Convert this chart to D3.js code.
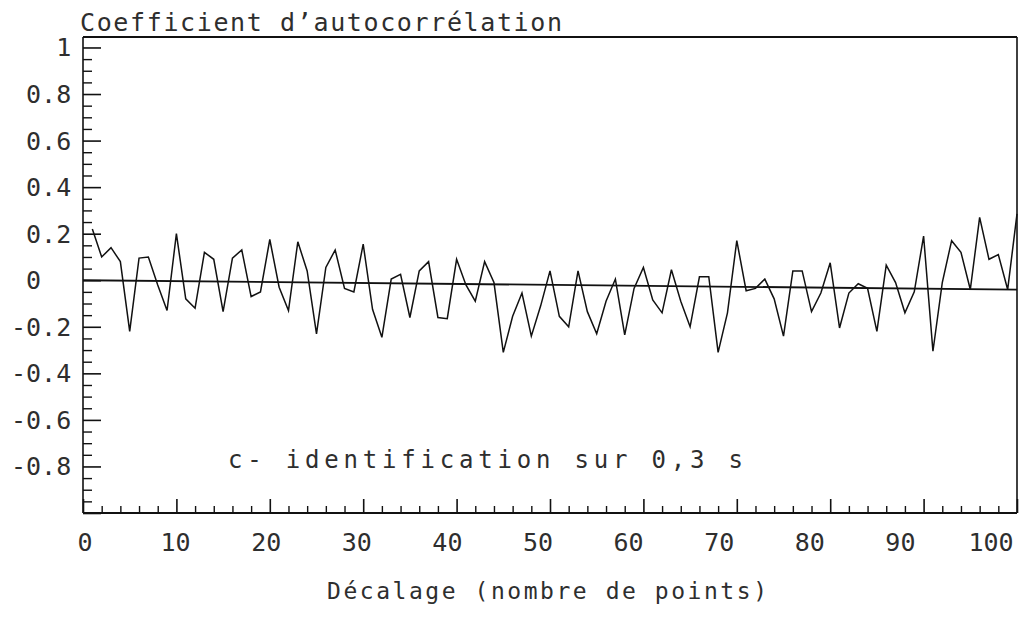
<!DOCTYPE html>
<html>
<head>
<meta charset="utf-8">
<script src="https://cdn.jsdelivr.net/npm/d3@7"></script>
<style>
  html, body { margin: 0; padding: 0; background: #fff; }
  svg { display: block; }
  text { font-family: "DejaVu Sans Mono", "Liberation Mono", monospace; fill: #2e2e2e; white-space: pre; }
</style>
</head>
<body>
<svg id="chart" width="1027" height="629"></svg>
<script>
// Autocorrelation coefficient for lags 1..100
const lags = d3.range(1, 101);
const acf = [
   0.22,  0.10,  0.14,  0.08, -0.22,  0.095, 0.10, -0.02, -0.13,  0.20,
  -0.08, -0.12,  0.12,  0.09, -0.135, 0.095, 0.13, -0.07, -0.05,  0.175,
  -0.03, -0.13,  0.165, 0.04, -0.23,  0.055, 0.13, -0.035,-0.05,  0.155,
  -0.125,-0.245, 0.005, 0.025,-0.16,  0.04,  0.08, -0.16, -0.165, 0.09,
  -0.02, -0.09,  0.08, -0.01, -0.31, -0.155,-0.055,-0.24, -0.11,  0.04,
  -0.155,-0.20,  0.04, -0.135,-0.23, -0.09,  0.005,-0.235,-0.035, 0.055,
  -0.085,-0.14,  0.045,-0.09, -0.20,  0.015, 0.015,-0.31, -0.14,  0.17,
  -0.045,-0.035, 0.005,-0.08, -0.24,  0.04,  0.04, -0.135,-0.055, 0.075,
  -0.205,-0.055,-0.015,-0.035,-0.22,  0.065,-0.01, -0.14, -0.05,  0.19,
  -0.305,-0.01,  0.17,  0.12, -0.04,  0.27,  0.09,  0.11, -0.04,  0.285
];

// Reference line: value at lag 0 and at lag 100
const baseLags = [0, 100];
const baseValues = [0, -0.04];

// Axis ticks and labels
const yMajor = [1, 0.8, 0.6, 0.4, 0.2, 0, -0.2, -0.4, -0.6, -0.8, -1];
const yLabelValues = [1, 0.8, 0.6, 0.4, 0.2, 0, -0.2, -0.4, -0.6, -0.8];
const yLabels = ["   1", " 0.8", " 0.6", " 0.4", " 0.2", " 0", "-0.2", "-0.4", "-0.6", "-0.8"];
const xMajor = [0, 10, 20, 30, 40, 50, 60, 70, 80, 90, 100];
const xLabels = ["0", "10", "20", "30", "40", "50", "60", "70", "80", "90", "100"];

const yTitle = "Coefficient d’autocorrélation";
const xTitle = "Décalage (nombre de points)";
const note = "c- identification sur 0,3 s";

(function draw() {
  const svg = d3.select("#chart");
  const plotLeft = 83, plotRight = 1017, plotTop = 37, plotBottom = 513;

  const x = d3.scaleLinear().domain([0, 100]).range([plotLeft, plotRight]);
  const y = d3.scaleLinear().domain([-1, 1.045]).range([plotBottom, plotTop]);
  // tick labels sit slightly left of their ticks toward the right end
  const xLab = d3.scaleLinear().domain([0, 100]).range([plotLeft + 2, plotRight - 26]);

  const ink = "#111";
  const g = svg.append("g");

  // frame: top and right edges
  g.append("line").attr("x1", x(0)).attr("x2", x(100)).attr("y1", y(1.045)).attr("y2", y(1.045))
    .attr("stroke", ink).attr("stroke-width", 2.2);
  g.append("line").attr("x1", x(100)).attr("x2", x(100)).attr("y1", y(1.045)).attr("y2", y(-1))
    .attr("stroke", ink).attr("stroke-width", 1.6);

  // y axis: major every 0.2, minor every 0.05, ticks pointing inward
  const yMinor = d3.range(-20, 21).map(i => i * 0.05)
    .filter(v => Math.abs(Math.round(v * 100)) % 20 !== 0);
  g.append("g").attr("transform", `translate(${x(0)},0)`)
    .call(d3.axisLeft(y).tickValues(yMinor).tickSize(-9).tickFormat(""))
    .call(s => s.select(".domain").remove())
    .selectAll("line").attr("stroke", ink).attr("stroke-width", 1.4);
  g.append("g").attr("transform", `translate(${x(0)},0)`)
    .call(d3.axisLeft(y).tickValues(yMajor).tickSize(-18).tickFormat(""))
    .call(s => s.select(".domain").remove())
    .selectAll("line").attr("stroke", ink).attr("stroke-width", 1.6);
  g.append("line").attr("x1", x(0)).attr("x2", x(0)).attr("y1", y(1.045)).attr("y2", y(-1))
    .attr("stroke", ink).attr("stroke-width", 1.6);

  // x axis: major every 10, minor every 2, ticks pointing upward
  const xMinor = d3.range(0, 101, 2).filter(v => v % 10 !== 0);
  g.append("g").attr("transform", `translate(0,${y(-1)})`)
    .call(d3.axisBottom(x).tickValues(xMinor).tickSize(-7).tickFormat(""))
    .call(s => s.select(".domain").remove())
    .selectAll("line").attr("stroke", ink).attr("stroke-width", 1.4);
  g.append("g").attr("transform", `translate(0,${y(-1)})`)
    .call(d3.axisBottom(x).tickValues(xMajor).tickSize(-14).tickFormat(""))
    .call(s => s.select(".domain").remove())
    .selectAll("line").attr("stroke", ink).attr("stroke-width", 1.6);
  g.append("line").attr("x1", x(0)).attr("x2", x(100)).attr("y1", y(-1)).attr("y2", y(-1))
    .attr("stroke", ink).attr("stroke-width", 2);

  // y tick labels (fixed-width strings)
  svg.append("g").selectAll("text").data(yLabelValues).join("text")
    .attr("x", 11).attr("y", d => y(d)).attr("dy", "0.36em")
    .attr("font-size", 25)
    .text((d, i) => yLabels[i]);

  // x tick labels
  svg.append("g").selectAll("text").data(xMajor).join("text")
    .attr("x", d => xLab(d)).attr("y", 551)
    .attr("text-anchor", "middle").attr("font-size", 25)
    .text((d, i) => xLabels[i]);

  // titles and annotation
  svg.append("text").attr("x", 80).attr("y", 31).attr("font-size", 25)
    .attr("textLength", 482).attr("lengthAdjust", "spacing").text(yTitle);
  svg.append("text").attr("x", 327).attr("y", 599).attr("font-size", 23)
    .attr("textLength", 440).attr("lengthAdjust", "spacing").text(xTitle);
  svg.append("text").attr("x", 228).attr("y", y(-0.805)).attr("font-size", 24)
    .attr("textLength", 515).attr("lengthAdjust", "spacing").text(note);

  // reference line
  svg.append("line")
    .attr("x1", x(baseLags[0])).attr("y1", y(baseValues[0]))
    .attr("x2", x(baseLags[1])).attr("y2", y(baseValues[1]))
    .attr("stroke", ink).attr("stroke-width", 1.8);

  // autocorrelation curve
  const line = d3.line().x((d, i) => x(lags[i])).y(d => y(d));
  svg.append("path").datum(acf)
    .attr("d", line)
    .attr("fill", "none").attr("stroke", ink).attr("stroke-width", 1.5)
    .attr("stroke-linejoin", "miter");
})();
</script>
</body>
</html>
